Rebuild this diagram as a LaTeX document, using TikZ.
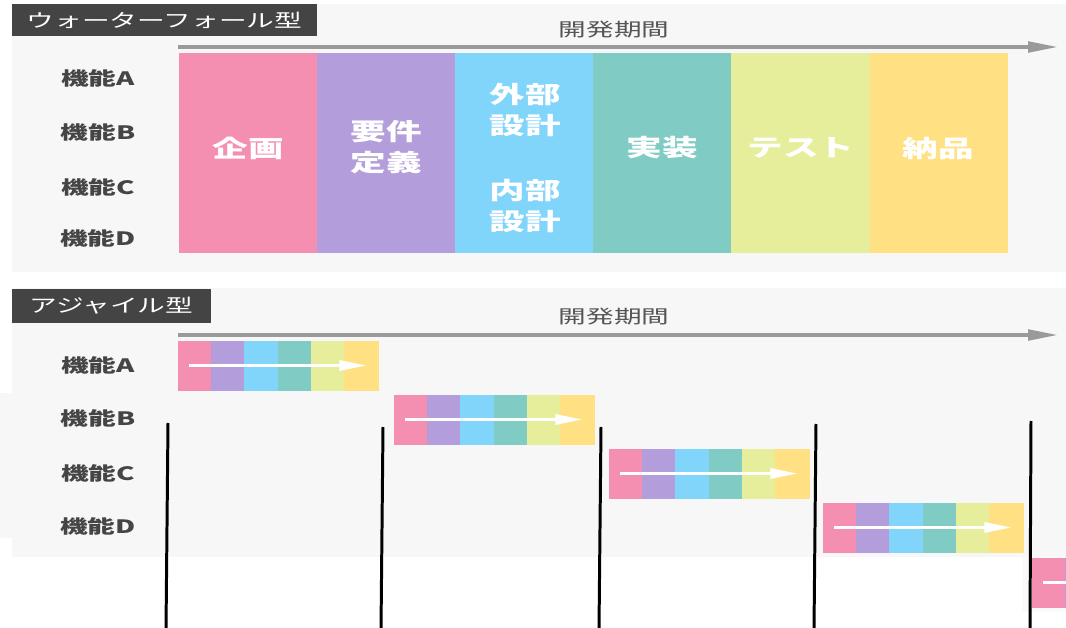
\documentclass[tikz,border=0pt]{standalone}
\usepackage{fontspec}
\setmainfont{Noto Sans CJK JP}[FakeStretch=1.5]
\usetikzlibrary{arrows.meta}

\definecolor{panelgray}{HTML}{F7F7F7}
\definecolor{tabdark}{HTML}{444444}
\definecolor{labelgray}{HTML}{454545}
\definecolor{periodgray}{HTML}{555555}
\definecolor{axisgray}{HTML}{9A9A9A}
\definecolor{cPink}{HTML}{F48FB1}
\definecolor{cPurple}{HTML}{B39DDB}
\definecolor{cBlue}{HTML}{81D4FA}
\definecolor{cTeal}{HTML}{80CBC4}
\definecolor{cLime}{HTML}{E6EE9C}
\definecolor{cAmber}{HTML}{FFE082}

\begin{document}
\begin{tikzpicture}[x=0.02cm, y=-0.02cm]
    \tikzstyle{tab}=[fill=tabdark, text=white, inner sep=0pt, font=\fontsize{10.5}{12}\selectfont]
    \tikzstyle{rowlabel}=[text=labelgray, font=\bfseries\fontsize{10.5}{12}\selectfont]
    \tikzstyle{period}=[text=periodgray, font=\fontsize{10.5}{12}\selectfont]
    \tikzstyle{axis}=[axisgray, line width=2pt, -{Triangle[length=17pt, width=6pt]}]
    \tikzstyle{phase}=[minimum width=2.77cm, minimum height=4.02cm, inner sep=0pt, outer sep=0pt]
    \tikzstyle{phasetext}=[text=white, align=center, inner sep=0pt, font=\bfseries\fontsize{13.5}{18}\selectfont]
    \tikzstyle{cell}=[minimum width=0.667cm, minimum height=0.98cm, inner sep=0pt, outer sep=0pt, fill=#1, draw=#1, line width=0.3pt]
    \tikzstyle{flow}=[white, line width=2.2pt, -{Triangle[length=16pt, width=5.5pt]}]
    \tikzstyle{cut}=[black, line width=1.7pt]

    \useasboundingbox (0,0) rectangle (1066,628);
    \clip (0,0) rectangle (1066,628);

    % panels
    \fill[panelgray] (12,4) rectangle (1066,272);
    \fill[panelgray] (12,288) rectangle (1066,557);
    \fill[black!3] (0,393) rectangle (32,538);
    \fill[black!2] (1022,557) rectangle (1066,612);

    % waterfall
    \node[tab, minimum width=6.1cm, minimum height=0.64cm] (wfTab) at (164.5,20) {ウォーターフォール型};
    \node[period] (wfPeriod) at (614,30) {開発期間};
    \coordinate (wfStart) at (178,47);
    \coordinate (wfEnd) at (1058,47);
    \draw[axis] (wfStart) -- (wfEnd);

    \node[rowlabel] (wfA) at (98,78) {機能A};
    \node[rowlabel] (wfB) at (98,132) {機能B};
    \node[rowlabel] (wfC) at (98,187) {機能C};
    \node[rowlabel] (wfD) at (98,238) {機能D};

    \node[phase, fill=cPink] (kikaku) at (248.1,153) {};
    \node[phase, fill=cPurple] (youken) at (386.2,153) {};
    \node[phase, fill=cBlue] (sekkei) at (524.4,153) {};
    \node[phase, fill=cTeal] (jissou) at (662.5,153) {};
    \node[phase, fill=cLime] (test) at (800.7,153) {};
    \node[phase, fill=cAmber] (nouhin) at (938.8,153) {};

    \node[phasetext] (kikakuText) at (248,148) {企画};
    \node[phasetext] (youkenText) at (386,147) {要件\\定義};
    \node[phasetext] (gaibuText) at (525,110) {外部\\設計};
    \node[phasetext] (naibuText) at (525,206) {内部\\設計};
    \node[phasetext] (jissouText) at (662,148) {実装};
    \node[phasetext] (testText) at (801,148) {テスト};
    \node[phasetext] (nouhinText) at (938,148) {納品};

    % agile
    \node[tab, minimum width=3.98cm, minimum height=0.68cm] (agTab) at (111.5,306) {アジャイル型};
    \node[period] (agPeriod) at (614,317) {開発期間};
    \coordinate (agStart) at (178,335);
    \coordinate (agEnd) at (1058,335);
    \draw[axis] (agStart) -- (agEnd);

    \node[rowlabel] (agA) at (98,365) {機能A};
    \node[rowlabel] (agB) at (98,418) {機能B};
    \node[rowlabel] (agC) at (98,473) {機能C};
    \node[rowlabel] (agD) at (98,526) {機能D};

    \node[cell=cPink, anchor=north west] (a1) at (178,341) {};
    \node[cell=cPurple, anchor=west] (a2) at (a1.east) {};
    \node[cell=cBlue, anchor=west] (a3) at (a2.east) {};
    \node[cell=cTeal, anchor=west] (a4) at (a3.east) {};
    \node[cell=cLime, anchor=west] (a5) at (a4.east) {};
    \node[cell=cAmber, anchor=west] (a6) at (a5.east) {};
    \draw[flow] ([xshift=-3pt]a1.center) -- ([xshift=-6pt]a6.east);

    \node[cell=cPink, anchor=north west] (b1) at (394,395) {};
    \node[cell=cPurple, anchor=west] (b2) at (b1.east) {};
    \node[cell=cBlue, anchor=west] (b3) at (b2.east) {};
    \node[cell=cTeal, anchor=west] (b4) at (b3.east) {};
    \node[cell=cLime, anchor=west] (b5) at (b4.east) {};
    \node[cell=cAmber, anchor=west] (b6) at (b5.east) {};
    \draw[flow] ([xshift=-3pt]b1.center) -- ([xshift=-6pt]b6.east);

    \node[cell=cPink, anchor=north west] (c1) at (609,449) {};
    \node[cell=cPurple, anchor=west] (c2) at (c1.east) {};
    \node[cell=cBlue, anchor=west] (c3) at (c2.east) {};
    \node[cell=cTeal, anchor=west] (c4) at (c3.east) {};
    \node[cell=cLime, anchor=west] (c5) at (c4.east) {};
    \node[cell=cAmber, anchor=west] (c6) at (c5.east) {};
    \draw[flow] ([xshift=-3pt]c1.center) -- ([xshift=-6pt]c6.east);

    \node[cell=cPink, anchor=north west] (d1) at (823,503) {};
    \node[cell=cPurple, anchor=west] (d2) at (d1.east) {};
    \node[cell=cBlue, anchor=west] (d3) at (d2.east) {};
    \node[cell=cTeal, anchor=west] (d4) at (d3.east) {};
    \node[cell=cLime, anchor=west] (d5) at (d4.east) {};
    \node[cell=cAmber, anchor=west] (d6) at (d5.east) {};
    \draw[flow] ([xshift=-3pt]d1.center) -- ([xshift=-6pt]d6.east);

    \node[cell=cPink, anchor=north west] (e1) at (1032,558) {};
    \node[cell=cPurple, anchor=west] (e2) at (e1.east) {};
    \node[cell=cBlue, anchor=west] (e3) at (e2.east) {};
    \node[cell=cTeal, anchor=west] (e4) at (e3.east) {};
    \node[cell=cLime, anchor=west] (e5) at (e4.east) {};
    \node[cell=cAmber, anchor=west] (e6) at (e5.east) {};
    \draw[flow] ([xshift=-3pt]e1.center) -- ([xshift=-6pt]e6.east);

    % cut lines
    \coordinate (cut1top) at (168,423); \coordinate (cut1bot) at (166,630);
    \coordinate (cut2top) at (383,427); \coordinate (cut2bot) at (381,630);
    \coordinate (cut3top) at (601,427); \coordinate (cut3bot) at (599,630);
    \coordinate (cut4top) at (816,424); \coordinate (cut4bot) at (814,630);
    \coordinate (cut5top) at (1031,421); \coordinate (cut5bot) at (1030,630);
    \draw[cut] (cut1top) -- (cut1bot);
    \draw[cut] (cut2top) -- (cut2bot);
    \draw[cut] (cut3top) -- (cut3bot);
    \draw[cut] (cut4top) -- (cut4bot);
    \draw[cut] (cut5top) -- (cut5bot);

\end{tikzpicture}
\end{document}
